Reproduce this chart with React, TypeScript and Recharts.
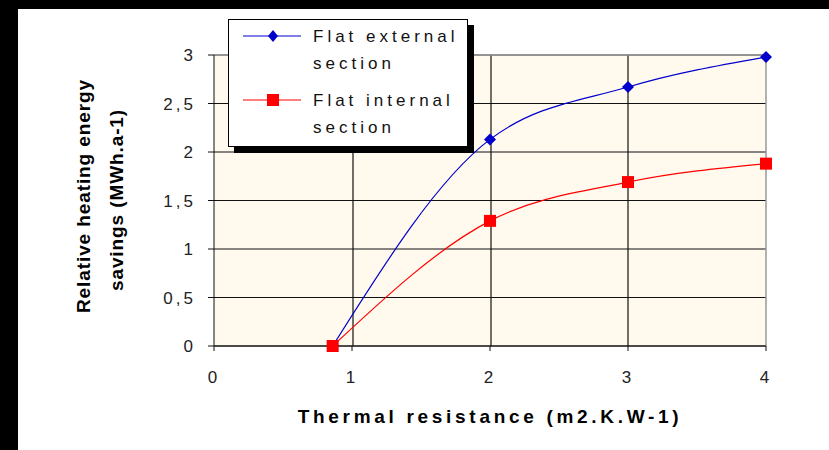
import { LineChart, Line, XAxis, YAxis, CartesianGrid, ReferenceLine } from 'recharts';

const xTicks = [0, 1, 2, 3, 4];
const yTicks = [0, 0.5, 1, 1.5, 2, 2.5, 3];

const externalSection = [
  { x: 0.86, y: 0 },
  { x: 2, y: 2.13 },
  { x: 3, y: 2.67 },
  { x: 4, y: 2.98 },
];

const internalSection = [
  { x: 0.86, y: 0 },
  { x: 2, y: 1.29 },
  { x: 3, y: 1.69 },
  { x: 4, y: 1.88 },
];

const BLUE = '#0000CC';
const RED = '#FF0000';
const FONT = '"Liberation Sans", Arial, sans-serif';

const Diamond = (props: any) => {
  const { cx, cy } = props;
  if (cx == null || cy == null) return null;
  const r = 6;
  return <polygon points={`${cx},${cy - r} ${cx + r},${cy} ${cx},${cy + r} ${cx - r},${cy}`} fill={BLUE} />;
};

const Square = (props: any) => {
  const { cx, cy } = props;
  if (cx == null || cy == null) return null;
  return <rect x={cx - 6} y={cy - 6} width={12} height={12} fill={RED} />;
};

const fmt = (v: number) => String(v).replace('.', ',');

const tickStyle = { fontSize: 17, fill: '#222', fontFamily: FONT, letterSpacing: 3 };

function LegendBox() {
  const row = (color: string, marker: JSX.Element, lines: string[]) => (
    <div style={{ display: 'flex', alignItems: 'flex-start', marginBottom: 10 }}>
      <svg width={70} height={26} style={{ flex: 'none' }}>
        <line x1={12} y1={13} x2={72} y2={13} stroke={color} strokeWidth={1.2} />
        {marker}
      </svg>
      <div style={{ lineHeight: '27px', marginLeft: 12 }}>
        {lines.map((t) => (
          <div key={t}>{t}</div>
        ))}
      </div>
    </div>
  );
  return (
    <div
      style={{
        position: 'absolute',
        left: 228,
        top: 19,
        width: 240,
        height: 128,
        boxSizing: 'border-box',
        background: '#fff',
        border: '1px solid #000',
        boxShadow: '6px 6px 0 #000',
        fontFamily: FONT,
        fontSize: 17,
        letterSpacing: 4,
        color: '#111',
        paddingTop: 3,
        paddingLeft: 2,
      }}
    >
      {row(BLUE, <polygon points="42,7 47,13 42,19 37,13" fill={BLUE} />, ['Flat external', 'section'])}
      {row(RED, <rect x={36} y={7} width={12} height={12} fill={RED} />, ['Flat internal', 'section'])}
    </div>
  );
}

const YTitle = () => (
  <text
    transform="rotate(-90)"
    textAnchor="middle"
    fontFamily={FONT}
    fontWeight="bold"
    fontSize={19}
    letterSpacing={0.9}
    fill="#000"
  >
    <tspan x={-196} y={90}>Relative heating energy</tspan>
    <tspan x={-200} y={123}>savings (MWh.a-1)</tspan>
  </text>
);

export default function App() {
  return (
    <div
      style={{
        position: 'absolute',
        left: 0,
        top: 0,
        width: 829,
        height: 450,
        background: '#fff',
        overflow: 'hidden',
      }}
    >
      <div style={{ position: 'absolute', left: 0, top: 0, width: 829, height: 9, background: '#000' }} />
      <div style={{ position: 'absolute', left: 0, top: 0, width: 18, height: 450, background: '#000' }} />
      <LineChart
        width={829}
        height={450}
        margin={{ top: 55, right: 63, bottom: 74, left: 154 }}
        style={{ position: 'absolute', left: 0, top: 0 }}
      >
        <CartesianGrid fill="#FFF9EE" stroke="#111" strokeWidth={1.2} verticalPoints={[353, 491, 628]} />
        <XAxis
          type="number"
          dataKey="x"
          domain={[0, 4]}
          ticks={xTicks}
          interval={0}
          tick={tickStyle}
          tickSize={5}
          tickMargin={20}
          stroke="#111"
          height={30}
          label={{
            value: 'Thermal resistance (m2.K.W-1)',
            position: 'insideBottom',
            offset: -47,
            style: { fontFamily: FONT, fontWeight: 'bold', fontSize: 19, letterSpacing: 3.7, fill: '#000' },
          }}
        />
        <YAxis
          type="number"
          dataKey="y"
          domain={[0, 3]}
          ticks={yTicks}
          interval={0}
          tickFormatter={fmt}
          tick={tickStyle}
          tickSize={6}
          tickMargin={12}
          stroke="#111"
          width={60}
          label={<YTitle />}
        />
        <ReferenceLine x={4} stroke="#999" strokeWidth={1.5} />
        <ReferenceLine y={3} stroke="#999" strokeWidth={1.5} />
        <Line
          data={externalSection}
          dataKey="y"
          name="Flat external section"
          type="monotone"
          stroke={BLUE}
          strokeWidth={1.2}
          dot={<Diamond />}
          activeDot={false}
          isAnimationActive={false}
        />
        <Line
          data={internalSection}
          dataKey="y"
          name="Flat internal section"
          type="monotone"
          stroke={RED}
          strokeWidth={1.2}
          dot={<Square />}
          activeDot={false}
          isAnimationActive={false}
        />
      </LineChart>
      <LegendBox />
    </div>
  );
}
